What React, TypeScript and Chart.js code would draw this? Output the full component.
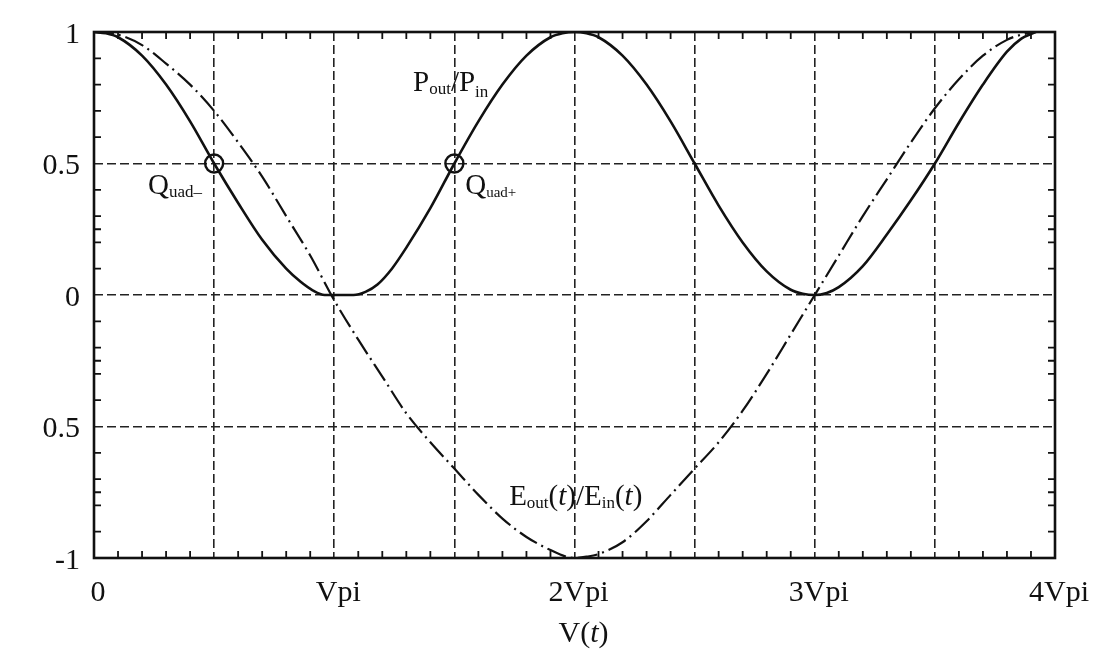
import React, { useEffect, useRef } from 'react';
import { Chart, registerables } from 'chart.js';

Chart.register(...registerables);

// P_out/P_in (solid curve), x in units of Vpi
const pX = [0, 0.05, 0.1, 0.2, 0.3, 0.4, 0.5, 0.6, 0.7, 0.8, 0.86, 0.91, 0.96, 1.08, 1.13, 1.18, 1.24, 1.3, 1.4, 1.5, 1.6, 1.7, 1.8, 1.9, 1.95, 2.0, 2.05, 2.1, 2.2, 2.3, 2.4, 2.5, 2.6, 2.7, 2.8, 2.9, 2.95, 3.0, 3.05, 3.1, 3.2, 3.3, 3.4, 3.5, 3.6, 3.7, 3.8, 3.86, 3.92];
const pY = [1, 0.995, 0.98, 0.91, 0.8, 0.66, 0.5, 0.35, 0.21, 0.1, 0.05, 0.018, 0, 0, 0.012, 0.04, 0.1, 0.18, 0.33, 0.5, 0.66, 0.8, 0.91, 0.98, 0.995, 1, 0.995, 0.98, 0.91, 0.8, 0.66, 0.5, 0.34, 0.2, 0.09, 0.02, 0.005, 0, 0.008, 0.03, 0.11, 0.23, 0.36, 0.5, 0.655, 0.8, 0.925, 0.975, 1];

// E_out(t)/E_in(t) (dash-dot curve)
const eX = [0, 0.05, 0.1, 0.2, 0.3, 0.4, 0.5, 0.6, 0.7, 0.8, 0.9, 1.0, 1.1, 1.2, 1.3, 1.4, 1.5, 1.6, 1.7, 1.8, 1.9, 1.95, 2.0, 2.05, 2.1, 2.2, 2.3, 2.4, 2.5, 2.6, 2.7, 2.8, 2.9, 3.0, 3.1, 3.2, 3.3, 3.4, 3.5, 3.6, 3.7, 3.8, 3.86, 3.92];
const eY = [1, 0.997, 0.99, 0.95, 0.88, 0.8, 0.7, 0.58, 0.45, 0.3, 0.15, -0.02, -0.17, -0.31, -0.45, -0.56, -0.66, -0.76, -0.85, -0.92, -0.97, -0.99, -1, -0.995, -0.985, -0.94, -0.86, -0.76, -0.66, -0.56, -0.44, -0.3, -0.15, 0, 0.15, 0.3, 0.44, 0.58, 0.71, 0.82, 0.91, 0.97, 0.99, 1];

// Quadrature points
const quadX = [0.5, 1.5];
const quadY = [0.5, 0.5];

// Tick labels
const xTickValues = [0, 1, 2, 3, 4];
const xTickLabels = ['0', 'Vpi', '2Vpi', '3Vpi', '4Vpi'];
const yTickValues = [1, 0.5, 0, -0.5, -1];
const yTickLabels = ['1', '0.5', '0', '0.5', '-1'];
const xGridValues = [0, 0.5, 1, 1.5, 2, 2.5, 3, 3.5, 4];
const yGridValues = [-1, -0.5, 0, 0.5, 1];
const yExtraMinor = [0.25, -0.25, -0.75];

const SERIF = "'Liberation Serif', 'Times New Roman', Times, serif";

type Part = { t: string; size: number; italic?: boolean; dy?: number };

function drawRich(ctx: CanvasRenderingContext2D, x: number, y: number, parts: Part[], center = false) {
  ctx.textBaseline = 'alphabetic';
  ctx.textAlign = 'left';
  let total = 0;
  for (const p of parts) {
    ctx.font = `${p.italic ? 'italic ' : ''}${p.size}px ${SERIF}`;
    total += ctx.measureText(p.t).width;
  }
  let cx = center ? x - total / 2 : x;
  for (const p of parts) {
    ctx.font = `${p.italic ? 'italic ' : ''}${p.size}px ${SERIF}`;
    ctx.fillText(p.t, cx, y + (p.dy || 0));
    cx += ctx.measureText(p.t).width;
  }
}

const decorPlugin = {
  id: 'decor',
  afterDraw(chart: any) {
    const { ctx, chartArea, scales } = chart;
    const xs = scales.x;
    const ys = scales.y;
    const { left, right, top, bottom } = chartArea;
    ctx.save();
    ctx.strokeStyle = '#111';
    ctx.fillStyle = '#111';
    ctx.setLineDash([]);

    // minor ticks
    ctx.lineWidth = 1.8;
    const tl = 7;
    ctx.beginPath();
    for (let i = 1; i < 40; i++) {
      if (i % 5 === 0) continue;
      const px = xs.getPixelForValue(i / 10);
      ctx.moveTo(px, bottom);
      ctx.lineTo(px, bottom - tl);
      ctx.moveTo(px, top);
      ctx.lineTo(px, top + tl);
    }
    const yMinor: number[] = [];
    for (let i = -9; i <= 9; i++) {
      if (i % 5 === 0) continue;
      yMinor.push(i / 10);
    }
    for (const v of [...yMinor, ...yExtraMinor]) {
      const py = ys.getPixelForValue(v);
      ctx.moveTo(left, py);
      ctx.lineTo(left + tl, py);
      ctx.moveTo(right, py);
      ctx.lineTo(right - tl, py);
    }
    ctx.stroke();

    // frame
    ctx.lineWidth = 2.6;
    ctx.strokeRect(left, top, right - left, bottom - top);

    // annotations
    const main = 29;
    const sub = 17;
    drawRich(ctx, xs.getPixelForValue(1.328), ys.getPixelForValue(0.776), [
      { t: 'P', size: main },
      { t: 'out', size: sub, dy: 3 },
      { t: '/P', size: main },
      { t: 'in', size: sub, dy: 6 },
    ]);
    drawRich(ctx, xs.getPixelForValue(0.225), ys.getPixelForValue(0.385), [
      { t: 'Q', size: main },
      { t: 'uad\u2013', size: sub, dy: 3 },
    ]);
    drawRich(ctx, xs.getPixelForValue(1.545), ys.getPixelForValue(0.385), [
      { t: 'Q', size: main },
      { t: 'uad+', size: sub - 2, dy: 3 },
    ]);
    drawRich(ctx, xs.getPixelForValue(1.728), ys.getPixelForValue(-0.8), [
      { t: 'E', size: main },
      { t: 'out', size: sub, dy: 3 },
      { t: '(', size: main },
      { t: 't', size: main, italic: true },
      { t: ')/E', size: main },
      { t: 'in', size: sub, dy: 3 },
      { t: '(', size: main },
      { t: 't', size: main, italic: true },
      { t: ')', size: main },
    ]);

    // x axis title V(t)
    drawRich(ctx, xs.getPixelForValue(2) + 9, 642, [
      { t: 'V(', size: 30 },
      { t: 't', size: 30, italic: true },
      { t: ')', size: 30 },
    ], true);
    ctx.restore();
  },
};

export default function App() {
  const ref = useRef<HTMLCanvasElement | null>(null);

  useEffect(() => {
    const canvas = ref.current;
    if (!canvas) return;
    const chart = new Chart(canvas, {
      type: 'line',
      data: {
        datasets: [
          {
            label: 'Pout/Pin',
            data: pX.map((x, i) => ({ x, y: pY[i] })),
            borderColor: '#111',
            borderWidth: 2.6,
            pointRadius: 0,
            fill: false,
            cubicInterpolationMode: 'monotone',
          },
          {
            label: 'Eout/Ein',
            data: eX.map((x, i) => ({ x, y: eY[i] })),
            borderColor: '#111',
            borderWidth: 2.2,
            borderDash: [20, 5, 2, 5],
            pointRadius: 0,
            fill: false,
            cubicInterpolationMode: 'monotone',
          },
          {
            label: 'Quad',
            data: quadX.map((x, i) => ({ x, y: quadY[i] })),
            showLine: false,
            pointRadius: 9,
            pointBorderWidth: 2.4,
            pointBorderColor: '#111',
            pointBackgroundColor: 'rgba(0,0,0,0)',
            borderColor: '#111',
          },
        ],
      } as any,
      options: {
        animation: false,
        responsive: false,
        maintainAspectRatio: false,
        layout: { padding: { left: 0, right: 61, top: 31, bottom: 0 } },
        plugins: { legend: { display: false }, tooltip: { enabled: false } },
        scales: {
          x: {
            type: 'linear',
            min: 0,
            max: 4,
            afterFit: (s: any) => {
              s.height = 110;
            },
            afterBuildTicks: (s: any) => {
              s.ticks = xGridValues.map((v) => ({ value: v }));
            },
            ticks: {
              autoSkip: false,
              maxRotation: 0,
              padding: 17,
              labelOffset: 4,
              color: '#111',
              font: { family: SERIF, size: 30 },
              callback: (v: any) => {
                const i = xTickValues.indexOf(Number(v));
                return i >= 0 ? xTickLabels[i] : '';
              },
            },
            grid: { color: '#222', lineWidth: 1.6, drawTicks: false },
            border: { display: false, dash: [9, 4] },
          },
          y: {
            type: 'linear',
            min: -1,
            max: 1,
            afterFit: (s: any) => {
              s.width = 94;
            },
            afterBuildTicks: (s: any) => {
              s.ticks = yGridValues.map((v) => ({ value: v }));
            },
            ticks: {
              autoSkip: false,
              padding: 14,
              labelOffset: 3,
              color: '#111',
              font: { family: SERIF, size: 30 },
              callback: (v: any) => {
                const i = yTickValues.indexOf(Number(v));
                return i >= 0 ? yTickLabels[i] : '';
              },
            },
            grid: { color: '#222', lineWidth: 1.6, drawTicks: false },
            border: { display: false, dash: [9, 4] },
          },
        },
      } as any,
      plugins: [decorPlugin],
    });
    return () => chart.destroy();
  }, []);

  return (
    <div style={{ position: 'fixed', left: 0, top: 0, width: 1116, height: 668, background: '#fff' }}>
      <canvas ref={ref} width={1116} height={668} style={{ display: 'block', width: 1116, height: 668 }} />
    </div>
  );
}
